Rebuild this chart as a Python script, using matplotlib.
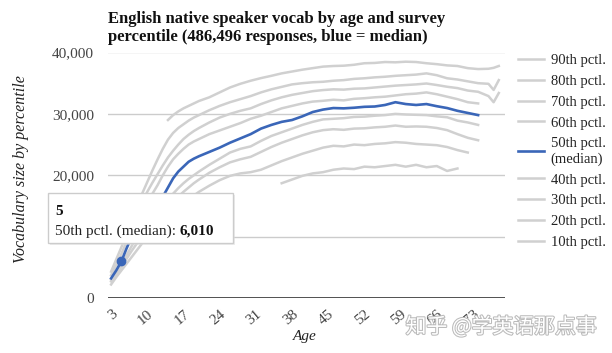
import numpy as np
import matplotlib
matplotlib.use("Agg")
import matplotlib.pyplot as plt
from matplotlib.patches import Rectangle
import matplotlib.patheffects as pe

nan = np.nan

# edades (eje x)
ages = list(range(3, 21)) + list(range(22, 77, 2)) + [77, 78]

# percentiles de vocabulario
p90 = [nan, nan, nan, nan, nan, nan, nan, nan, nan, nan, nan, 29000, 29800, 30400, 30900, 31300, 31700, 32100,
       32700, 33500, 34300, 34900, 35400, 35830, 36200, 36600, 36900, 37200, 37450, 37700, 37800, 37850,
       38000, 38250, 38300, 38450, 38400, 38500, 38450, 38250, 38100, 37900, 37800, 37450, 37300, 37350,
       37500, 37800]
p80 = [nan, nan, 9300, 11500, 13500, 15300, 17000, 18900, 20800, 22600, 24300, 25800, 26900, 27700, 28300,
       28900, 29400, 29800,
       30600, 31300, 31900, 32400, 32900, 33500, 34000, 34400, 34800, 35000, 35150, 35230, 35400, 35500,
       35700, 35800, 35950, 36050, 36200, 36300, 36400, 36600, 36300, 35800, 35600, 35300, 35000, 34900,
       33900, 35500]
p70 = [4300, 6300, 8300, 10300, 12200, 14000, 15700, 17300, 18800, 20200, 21600, 22900, 24000, 25000, 25900,
       26600, 27200, 27700,
       28600, 29400, 30000, 30500, 30900, 31600, 32200, 32700, 33100, 33400, 33700, 33880, 34000, 33950,
       34100, 34150, 34300, 34450, 34600, 34700, 34800, 34950, 34700, 34420, 34200, 33800, 33600, 32900,
       31900, 33400]
p60 = [3700, 5400, 7200, 9200, 11100, 12800, 14300, 15700, 17000, 18400, 20000, 21400, 22600, 23500, 24300,
       25000, 25500, 25900,
       26700, 27300, 27900, 28500, 29200, 29700, 30300, 30900, 31300, 31700, 32000, 32130, 32300, 32200,
       32450, 32550, 32700, 32800, 33000, 33200, 33300, 33500, 33200, 32800, 32400, 31900, 31700, nan,
       nan, nan]
p50 = [3200, 4500, 6010, 8100, 10000, 11100, 12200, 13300, 14400, 15500, 16500, 18000, 19500, 20600, 21400,
       22200, 22700, 23100,
       23800, 24500, 25300, 26000, 26700, 27600, 28200, 28700, 29000, 29600, 30300, 30700, 30950, 30900,
       31000, 31150, 31200, 31450, 31900, 31600, 31450, 31600, 31250, 30950, 30500, 30150, 29800, nan,
       nan, nan]
p40 = [3000, 4200, 5500, 7000, 8500, 9900, 11000, 12000, 13000, 14000, 15000, 16000, 17000, 17900, 18700,
       19400, 20000, 20600,
       21700, 22700, 23700, 24300, 24700, 25600, 26400, 27000, 27600, 28200, 28700, 29100, 29200, 29300,
       29500, 29550, 29700, 29800, 30000, 29900, 29850, 29800, 29600, 29450, 28900, 28600, 28200, nan,
       nan, nan]
p30 = [2700, 3900, 5100, 6400, 7700, 8900, 9900, 10800, 11800, 12800, 13800, 14800, 15700, 16500, 17300,
       18000, 18700, 19300,
       20400, 21300, 22100, 22600, 23000, 23800, 24600, 25300, 25900, 26500, 27000, 27350, 27500, 27400,
       27600, 27650, 27800, 27900, 28100, 27900, 27950, 27900, 27700, 27350, 26700, 26100, 25700, nan,
       nan, nan]
p20 = [2200, 3400, 4500, 5600, 6700, 7800, 8900, 9700, 10500, 11300, 12100, 12900, 13700, 14500, 15300,
       16000, 16700, 17300,
       18300, 19200, 19900, 20300, 20500, 20900, 21600, 22300, 22900, 23500, 24000, 24500, 24800, 24700,
       25000, 24900, 25100, 25200, 25400, 25300, 25100, 25000, 24900, 24600, 24100, 23700, nan, nan,
       nan, nan]
p10 = [nan] * 18 + [nan, nan, nan, nan, nan, nan, nan, 18700, 19300, 19900, 20300, 20500, 20900, 21100,
       21000, 21400, 21300, 21500, 21700, 21400, 21700, 21300, 21500, 20700, 21100, nan, nan, nan,
       nan, nan]

series = [p90, p80, p70, p60, p50, p40, p30, p20, p10]
labels = ["90th pctl.", "80th pctl.", "70th pctl.", "60th pctl.", "50th pctl.\n(median)",
          "40th pctl.", "30th pctl.", "20th pctl.", "10th pctl."]
xticks = [3, 10, 17, 24, 31, 38, 45, 52, 59, 66, 73]
yticks = [0, 10000, 20000, 30000, 40000]
tip_age = 5

gray = "#d0d0d0"
blue = "#3a66b8"
plt.rcParams["font.family"] = ["Liberation Serif", "DejaVu Serif"]

W, H = 612, 353
fig = plt.figure(figsize=(W / 100, H / 100), dpi=100)
ax = fig.add_axes([108 / W, 1 - 298 / H, 397 / W, 245.5 / H])

# lineas de percentiles
handles = []
for s, lab in zip(series, labels):
    if lab.startswith("50th"):
        continue
    l, = ax.plot(ages, s, color=gray, lw=1.8, zorder=2)
    handles.append(l)
lmed, = ax.plot(ages, p50, color=blue, lw=1.9, zorder=3)
handles.insert(4, lmed)

# punto del tooltip
tip_val = p50[ages.index(tip_age)]
ax.plot([tip_age], [tip_val], "o", color=blue, ms=6, zorder=4)

ax.set_xlim(2.4, 79.2)
ax.set_ylim(0, 40000)
for v in yticks[1:]:
    ax.axhline(v, color="#cccccc", lw=1, zorder=1)
ax.axhline(0, color="#333333", lw=1.2, zorder=1)
for sp in ax.spines.values():
    sp.set_visible(False)

# la etiqueta 10,000 queda tapada por el tooltip
ax.set_yticks(yticks)
ax.set_yticklabels([f"{v:,}" if v != 10000 else "" for v in yticks], fontsize=11, color="#444444")
ax.set_xticks(xticks)
ax.set_xticklabels([str(t) for t in xticks], fontsize=11, color="#444444",
                   rotation=40, ha="right", rotation_mode="anchor")
ax.tick_params(length=0, pad=7)
ax.tick_params(axis="y", pad=10)

ax.set_xlabel("Age", fontsize=11, style="italic", color="#222222")
ax.xaxis.set_label_coords(0.496, -0.13)
ax.set_ylabel("Vocabulary size by percentile", fontsize=11.5, style="italic", color="#222222")
ax.yaxis.set_label_coords(-0.2, 0.525)

# titulo
fig.text(108 / W, 1 - 11 / H,
         "English native speaker vocab by age and survey\npercentile (486,496 responses, blue = median)",
         fontsize=12, fontweight="bold", color="#111111", va="top", ha="left", linespacing=1.2)

# leyenda
ax.legend(handles, labels, loc="upper left", bbox_to_anchor=(518 / W, 1 - 54 / H),
          bbox_transform=fig.transFigure, frameon=False, fontsize=10.5, handlelength=1.75,
          handletextpad=0.5, labelspacing=0.52, borderaxespad=0, borderpad=0,
          labelcolor="#222222")

# tooltip
fig.patches.append(Rectangle((50 / W, 1 - 245 / H), 185 / W, 50 / H, transform=fig.transFigure,
                             facecolor="#dddddd", edgecolor="none", zorder=5, alpha=0.5))
fig.patches.append(Rectangle((48 / W, 1 - 243 / H), 185 / W, 50 / H, transform=fig.transFigure,
                             facecolor="white", edgecolor="#cccccc", lw=1, zorder=6))
fig.text(55 / W, 1 - 215 / H, str(tip_age), fontsize=11, fontweight="bold", zorder=7,
         color="#111111")
t = fig.text(55 / W, 1 - 235 / H, "50th pctl. (median): ", fontsize=11, zorder=7, color="#222222")
fig.canvas.draw()
bb = t.get_window_extent()
fig.text(bb.x1 / W, 1 - 235 / H, f"{tip_val:,}", fontsize=11, fontweight="bold", zorder=7,
         color="#111111")

# marca de agua
fig.text(597 / W, 1 - 333 / H, "知乎 @学英语那点事", fontsize=15, color="white", ha="right",
         family=["Noto Sans CJK SC", "DejaVu Sans"], zorder=8,
         path_effects=[pe.withStroke(linewidth=1.5, foreground="#bbbbbb")])

fig.savefig("out.png", dpi=100)
